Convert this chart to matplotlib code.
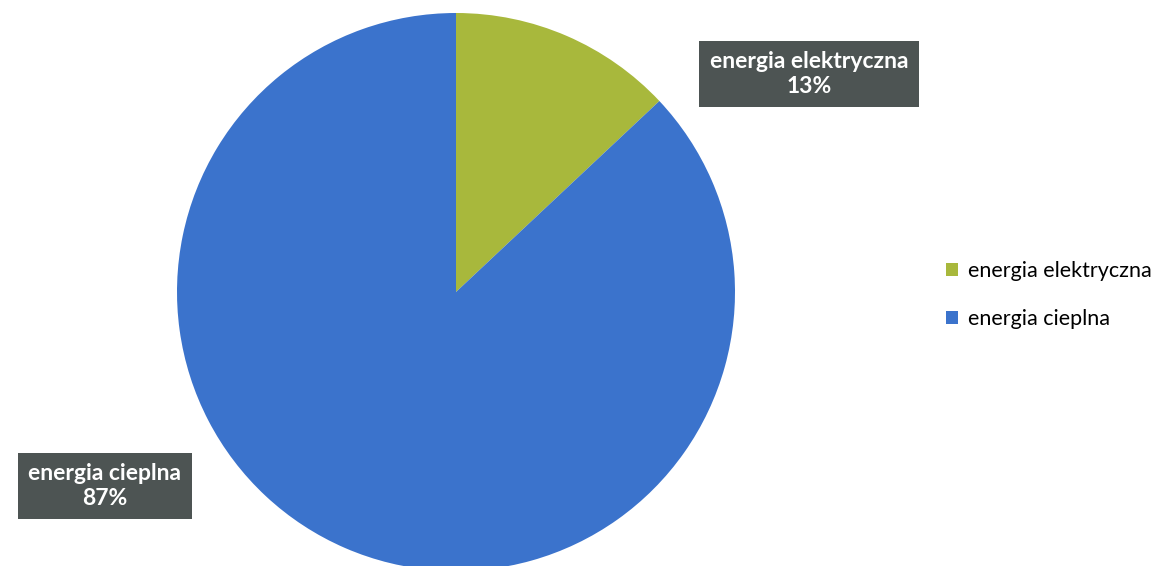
import matplotlib
matplotlib.use("Agg")
import matplotlib.pyplot as plt
from matplotlib.patches import Patch

categories = ["energia elektryczna", "energia cieplna"]
values = [13, 87]
colors = ["#a8b83c", "#3b73cc"]

plt.rcParams['font.family'] = ['Lato', 'DejaVu Sans']

W, H = 1160, 566
fig = plt.figure(figsize=(W / 100, H / 100), dpi=100)
fig.patch.set_facecolor("white")

cx, cy, r = 456, 292, 279
ax = fig.add_axes([(cx - r) / W, (H - cy - r) / H, 2 * r / W, 2 * r / H])
wedges, _ = ax.pie(values, colors=colors, startangle=90, counterclock=False,
                   radius=1.0, wedgeprops=dict(linewidth=0))
ax.set_xlim(-1, 1)
ax.set_ylim(-1, 1)
ax.set_aspect("equal")
ax.axis("off")
for w in wedges:
    w.set_clip_on(False)

box = dict(boxstyle="square,pad=0.45", facecolor="#4d5453", edgecolor="none")
label_pos = [(809, 74), (105, 486)]
for (px, py), cat, v in zip(label_pos, categories, values):
    fig.text(px / W, 1 - py / H, f"{cat}\n{v}%", ha="center", va="center",
             color="white", fontsize=16.5, fontweight="bold", bbox=box,
             linespacing=1.2)

handles = [Patch(facecolor=c, edgecolor="none") for c in colors]
fig.legend(handles, categories, loc="center left",
           bbox_to_anchor=(946 / W, 1 - 295 / H), frameon=False,
           borderaxespad=0, borderpad=0,
           fontsize=15.5, handlelength=0.55, handleheight=0.55,
           handletextpad=0.45, labelspacing=1.3)

fig.savefig("out.png", dpi=100)
